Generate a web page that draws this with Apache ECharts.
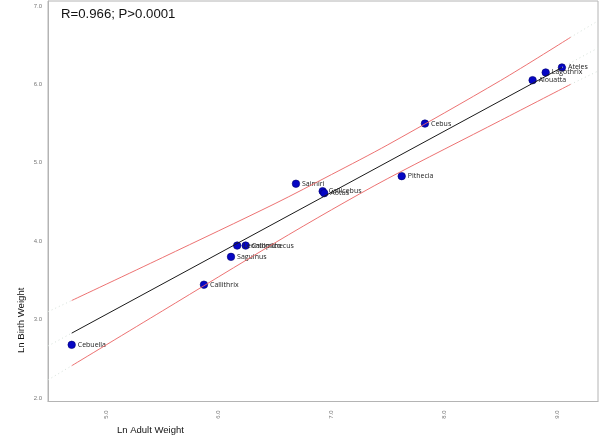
<!DOCTYPE html>
<html>
<head>
<meta charset="utf-8">
<script src="https://cdn.jsdelivr.net/npm/echarts@6/dist/echarts.min.js"></script>
<style>html,body{margin:0;padding:0;background:#fff}#c{width:600px;height:448px}</style>
</head>
<body>
<div id="c"></div>
<script>
// Genus data (ln adult weight, ln birth weight)
const genera = ['Cebuella','Callithrix','Saguinus','Leontopithecus','Callimico','Saimiri','Callicebus','Aotus','Cebus','Pithecia','Alouatta','Lagothrix','Ateles'];
const lnAdult = [4.696, 5.869, 6.109, 6.164, 6.239, 6.685, 6.922, 6.936, 7.829, 7.623, 8.784, 8.900, 9.044];
const lnBirth = [2.678, 3.445, 3.800, 3.944, 3.944, 4.733, 4.638, 4.613, 5.500, 4.830, 6.054, 6.152, 6.216];

// Regression line
const fitX = [4.696, 9.044];
const fitY = [2.827, 6.216];

// Confidence band
const bandX = [4.696, 5.5, 6.5, 7.0, 7.5, 8.5, 9.12];
const bandUpper = [3.243, 3.79, 4.48, 4.85, 5.23, 6.05, 6.60];
const bandLower = [2.411, 3.11, 3.98, 4.40, 4.80, 5.54, 6.00];

// Faint dotted extensions near plot edges
const extLeftX = [4.486, 4.696];
const extLeftUpper = [3.10, 3.243];
const extLeftFit = [2.663, 2.827];
const extLeftLower = [2.23, 2.411];
const extRightX = [9.12, 9.364];
const extRightUpper = [6.60, 6.81];
const extRightLower = [6.00, 6.17];
const extRightFitX = [9.044, 9.364];
const extRightFit = [6.216, 6.465];

const xTicks = [5, 6, 7, 8, 9];
const yTicks = [2, 3, 4, 5, 6, 7];

const zip = (xs, ys) => xs.map((x, i) => [x, ys[i]]);
const faint = {color: '#d6e2da', width: 1, type: [1, 3]};

const chart = echarts.init(document.getElementById('c'), null, {renderer: 'canvas'});
chart.setOption({
  animation: false,
  grid: {left: 48, right: 2, top: 1, bottom: 46.5, show: true, borderColor: '#b4b4b4', borderWidth: 1, backgroundColor: '#fff'},
  xAxis: {
    type: 'value', min: 4.486, max: 9.364,
    splitLine: {show: false}, axisTick: {show: false},
    axisLine: {show: true, lineStyle: {color: '#b4b4b4'}},
    axisLabel: {customValues: xTicks, rotate: 90, fontSize: 6, color: '#777', margin: 9,
      fontFamily: 'Liberation Sans', formatter: v => v.toFixed(1)}
  },
  yAxis: {
    type: 'value', min: 1.955, max: 7.064,
    splitLine: {show: false}, axisTick: {show: false},
    axisLine: {show: true, lineStyle: {color: '#b4b4b4'}},
    axisLabel: {customValues: yTicks, fontSize: 6, color: '#777', margin: 6,
      fontFamily: 'Liberation Sans', formatter: v => v.toFixed(1)}
  },
  graphic: [
    {type: 'text', left: 61, top: 8, style: {text: 'R=0.966; P>0.0001', font: '13.2px "Liberation Sans"', fill: '#111'}},
    {type: 'text', left: 117, top: 425, style: {text: 'Ln Adult Weight', font: '9.5px "Liberation Sans"', fill: '#111'}},
    {type: 'text', x: 16, y: 353, rotation: Math.PI / 2, style: {text: 'Ln Birth Weight', font: '9.6px "Liberation Sans"', fill: '#111', textVerticalAlign: 'top'}}
  ],
  series: [
    {type: 'line', data: zip(extLeftX, extLeftUpper), symbol: 'none', lineStyle: faint, silent: true},
    {type: 'line', data: zip(extLeftX, extLeftFit), symbol: 'none', lineStyle: faint, silent: true},
    {type: 'line', data: zip(extLeftX, extLeftLower), symbol: 'none', lineStyle: faint, silent: true},
    {type: 'line', data: zip(extRightX, extRightUpper), symbol: 'none', lineStyle: faint, silent: true},
    {type: 'line', data: zip(extRightX, extRightLower), symbol: 'none', lineStyle: faint, silent: true},
    {type: 'line', data: zip(extRightFitX, extRightFit), symbol: 'none', lineStyle: faint, silent: true},
    {type: 'line', data: zip(bandX, bandUpper), symbol: 'none', smooth: 0.3, lineStyle: {color: '#ea6262', width: 0.9}},
    {type: 'line', data: zip(bandX, bandLower), symbol: 'none', smooth: 0.3, lineStyle: {color: '#ea6262', width: 0.9}},
    {type: 'line', data: zip(fitX, fitY), symbol: 'none', lineStyle: {color: '#1a1a1a', width: 1}},
    {
      type: 'scatter', symbol: 'circle', symbolSize: 7.5,
      itemStyle: {color: '#0606c4', borderColor: '#00006e', borderWidth: 0.6, opacity: 1},
      label: {show: true, position: 'right', distance: 2, fontSize: 7, color: '#222',
        fontFamily: 'Open Sans', formatter: p => p.name},
      labelLayout: {hideOverlap: false},
      data: genera.map((g, i) => ({name: g, value: [lnAdult[i], lnBirth[i]]}))
    }
  ]
});
</script>
</body>
</html>
